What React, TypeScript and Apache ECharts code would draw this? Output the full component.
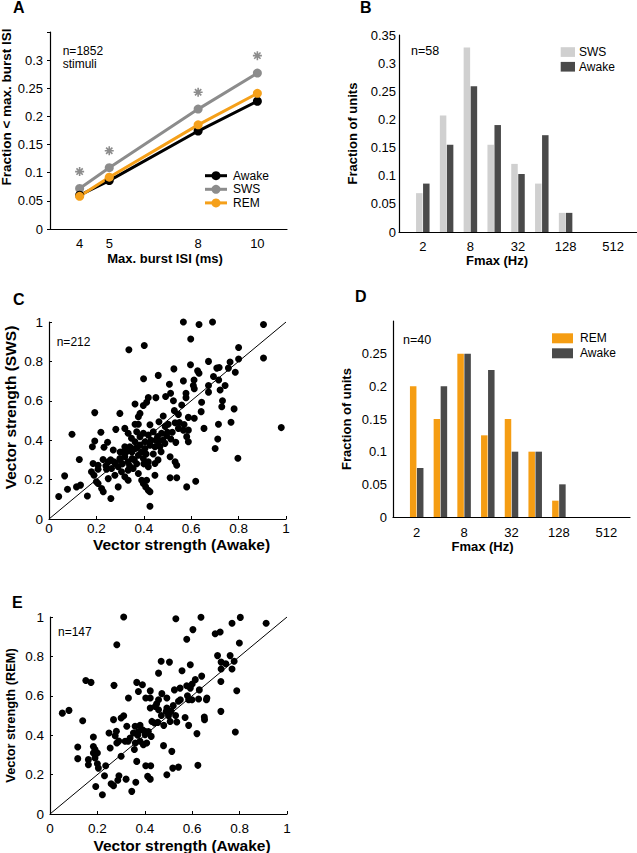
import React, { useEffect, useRef } from 'react';
import * as echarts from 'echarts';

const FONT = '"Liberation Sans", Arial, Helvetica, sans-serif';

// ---------- Panel A ----------
const A_ISI = [4, 5, 8, 10];
const A_TICKS = [4, 5, 8, 10];
const A_AWAKE = [0.06, 0.086, 0.174, 0.227];
const A_SWS = [0.072, 0.109, 0.213, 0.277];
const A_REM = [0.058, 0.092, 0.185, 0.241];
const A_STAR = [0.102, 0.139, 0.243, 0.308];

// ---------- Panels B / D ----------
const FMAX_CATS = ['1', '2', '4', '8', '16', '32', '64', '128', '256', '512', '1024'];
const B_SWS = [null, 0.069, 0.207, 0.328, 0.155, 0.121, 0.086, 0.034, 0, 0, null];
const B_AWAKE = [null, 0.086, 0.155, 0.259, 0.19, 0.103, 0.172, 0.034, 0, 0, null];
const D_REM = [null, 0.2, 0.15, 0.25, 0.125, 0.15, 0.1, 0.025, 0, 0, null];
const D_AWAKE = [null, 0.075, 0.2, 0.25, 0.225, 0.1, 0.1, 0.05, 0, 0, null];

// ---------- Panel C: vector strength Awake vs SWS ----------
const C_POINTS = [
  [0.337, 0.859], [0.193, 0.54], [0.299, 0.536], [0.097, 0.43], [0.282, 0.455], [0.219, 0.44], [0.193, 0.396],
  [0.247, 0.39], [0.183, 0.367], [0.232, 0.364], [0.271, 0.35], [0.128, 0.302], [0.228, 0.302], [0.186, 0.282],
  [0.207, 0.273], [0.25, 0.29], [0.274, 0.29], [0.299, 0.307], [0.31, 0.34], [0.066, 0.219], [0.179, 0.24],
  [0.19, 0.222], [0.2, 0.189], [0.207, 0.18], [0.222, 0.155], [0.229, 0.138], [0.116, 0.163], [0.133, 0.172],
  [0.078, 0.151], [0.041, 0.114], [0.162, 0.117], [0.261, 0.104], [0.292, 0.163], [0.25, 0.205], [0.278, 0.222],
  [0.306, 0.24], [0.264, 0.256], [0.292, 0.265], [0.243, 0.253], [0.207, 0.253],
  [0.567, 1.0], [0.633, 0.987], [0.598, 0.914], [0.402, 0.881], [0.673, 0.8], [0.527, 0.762], [0.597, 0.783],
  [0.627, 0.752], [0.633, 0.74], [0.461, 0.729], [0.399, 0.712], [0.508, 0.684], [0.567, 0.701], [0.612, 0.706],
  [0.609, 0.678], [0.613, 0.661], [0.673, 0.644], [0.513, 0.638], [0.578, 0.638], [0.451, 0.616], [0.492, 0.622],
  [0.419, 0.616], [0.412, 0.593], [0.398, 0.576], [0.363, 0.584], [0.525, 0.6], [0.578, 0.616], [0.644, 0.593],
  [0.56, 0.579], [0.384, 0.536], [0.377, 0.519], [0.482, 0.523], [0.529, 0.55], [0.546, 0.531], [0.588, 0.516],
  [0.642, 0.545], [0.654, 0.46], [0.363, 0.481], [0.377, 0.481], [0.426, 0.478], [0.464, 0.494], [0.503, 0.481],
  [0.532, 0.489], [0.546, 0.46], [0.567, 0.451], [0.588, 0.451], [0.613, 0.511], [0.32, 0.46], [0.334, 0.435],
  [0.348, 0.41], [0.37, 0.443], [0.384, 0.418], [0.398, 0.435], [0.419, 0.426], [0.44, 0.443], [0.458, 0.418],
  [0.475, 0.435], [0.496, 0.423], [0.514, 0.406], [0.535, 0.389], [0.581, 0.418], [0.588, 0.392], [0.32, 0.367],
  [0.327, 0.341], [0.341, 0.367], [0.363, 0.392], [0.363, 0.358], [0.384, 0.375], [0.405, 0.392], [0.405, 0.358],
  [0.426, 0.375], [0.447, 0.367], [0.461, 0.392], [0.468, 0.367], [0.489, 0.384], [0.473, 0.341], [0.511, 0.316],
  [0.32, 0.316], [0.334, 0.29], [0.351, 0.307], [0.377, 0.324], [0.398, 0.307], [0.419, 0.29], [0.447, 0.282],
  [0.532, 0.29], [0.539, 0.273], [0.334, 0.248], [0.355, 0.256], [0.377, 0.231], [0.419, 0.265], [0.447, 0.222],
  [0.32, 0.214], [0.334, 0.197], [0.391, 0.197], [0.398, 0.18], [0.412, 0.197], [0.408, 0.163], [0.419, 0.146],
  [0.426, 0.138], [0.511, 0.209], [0.539, 0.209], [0.581, 0.163], [0.619, 0.192], [0.426, 0.065],
  [0.69, 1.0], [0.905, 0.987], [0.905, 0.817], [0.8, 0.871], [0.8, 0.812], [0.764, 0.797], [0.708, 0.766],
  [0.718, 0.769], [0.757, 0.766], [0.786, 0.745], [0.694, 0.723], [0.716, 0.706], [0.673, 0.678], [0.743, 0.678],
  [0.722, 0.655], [0.732, 0.6], [0.729, 0.57], [0.781, 0.559], [0.715, 0.481], [0.768, 0.491], [0.98, 0.464],
  [0.712, 0.406], [0.701, 0.358], [0.797, 0.308],
  [0.3, 0.3], [0.31, 0.28], [0.35, 0.34], [0.36, 0.3], [0.37, 0.36], [0.39, 0.34], [0.41, 0.33], [0.43, 0.4],
  [0.45, 0.4], [0.48, 0.4], [0.5, 0.44], [0.52, 0.44], [0.44, 0.33], [0.34, 0.27], [0.28, 0.28], [0.26, 0.3],
  [0.24, 0.27], [0.3, 0.34], [0.37, 0.28], [0.4, 0.28], [0.46, 0.3], [0.49, 0.47], [0.55, 0.49], [0.57, 0.48],
];

// ---------- Panel E: vector strength Awake vs REM ----------
const E_POINTS = [
  [0.311, 1.0], [0.282, 0.859], [0.151, 0.678], [0.173, 0.668], [0.27, 0.653], [0.331, 0.589], [0.052, 0.512],
  [0.08, 0.526], [0.138, 0.473], [0.311, 0.499], [0.3, 0.487], [0.268, 0.479], [0.183, 0.391], [0.249, 0.411],
  [0.275, 0.397], [0.282, 0.36], [0.254, 0.335], [0.317, 0.369], [0.117, 0.34], [0.117, 0.281], [0.183, 0.343],
  [0.19, 0.327], [0.183, 0.31], [0.2, 0.31], [0.162, 0.276], [0.19, 0.284], [0.162, 0.25], [0.2, 0.255],
  [0.204, 0.233], [0.235, 0.245], [0.3, 0.293], [0.23, 0.194], [0.291, 0.194], [0.286, 0.171], [0.258, 0.154],
  [0.268, 0.144], [0.193, 0.14], [0.221, 0.098], [0.321, 0.177],
  [0.531, 0.991], [0.637, 0.999], [0.603, 0.936], [0.577, 0.887], [0.469, 0.775], [0.504, 0.771], [0.458, 0.715],
  [0.592, 0.758], [0.557, 0.727], [0.366, 0.668], [0.39, 0.656], [0.423, 0.625], [0.373, 0.622], [0.404, 0.589],
  [0.423, 0.589], [0.472, 0.611], [0.493, 0.589], [0.458, 0.58], [0.525, 0.63], [0.549, 0.639], [0.577, 0.651],
  [0.592, 0.639], [0.613, 0.682], [0.585, 0.58], [0.599, 0.58], [0.627, 0.584], [0.662, 0.589], [0.63, 0.63],
  [0.423, 0.538], [0.444, 0.546], [0.458, 0.529], [0.493, 0.538], [0.511, 0.521], [0.542, 0.572], [0.441, 0.462],
  [0.455, 0.465], [0.5, 0.499], [0.507, 0.47], [0.535, 0.467], [0.57, 0.49], [0.585, 0.45], [0.651, 0.492],
  [0.652, 0.479], [0.62, 0.408], [0.324, 0.445], [0.359, 0.445], [0.38, 0.45], [0.352, 0.411], [0.373, 0.419],
  [0.39, 0.428], [0.401, 0.403], [0.415, 0.419], [0.427, 0.394], [0.338, 0.386], [0.38, 0.369], [0.394, 0.352],
  [0.408, 0.36], [0.356, 0.327], [0.479, 0.347], [0.514, 0.318], [0.366, 0.267], [0.404, 0.245], [0.425, 0.245],
  [0.412, 0.191], [0.423, 0.177], [0.362, 0.161], [0.345, 0.115], [0.493, 0.199], [0.518, 0.233], [0.542, 0.238],
  [0.624, 0.247],
  [0.803, 0.998], [0.768, 0.968], [0.912, 0.968], [0.697, 0.915], [0.718, 0.924], [0.799, 0.868], [0.707, 0.804],
  [0.76, 0.804], [0.722, 0.771], [0.742, 0.763], [0.777, 0.775], [0.722, 0.736], [0.768, 0.736], [0.721, 0.673],
  [0.788, 0.626], [0.721, 0.521], [0.782, 0.416],
  [0.4, 0.42], [0.43, 0.47], [0.47, 0.5], [0.49, 0.52], [0.52, 0.55], [0.55, 0.58], [0.45, 0.56], [0.37, 0.4],
  [0.33, 0.37], [0.28, 0.42], [0.29, 0.37], [0.36, 0.36], [0.48, 0.45], [0.53, 0.5], [0.58, 0.6], [0.6, 0.66],
  [0.64, 0.7], [0.66, 0.58],
];
const DIAGONAL = [[0, 0], [1, 1]];

const A_LEGEND = [
  { name: 'Awake', color: '#000000' },
  { name: 'SWS', color: '#8c8c8c' },
  { name: 'REM', color: '#f5a01a' },
];
const B_LEGEND = [
  { name: 'SWS', color: '#d0d0d0' },
  { name: 'Awake', color: '#4a4a4a' },
];
const D_LEGEND = [
  { name: 'REM', color: '#f59d13' },
  { name: 'Awake', color: '#4a4a4a' },
];

const STAR_PATH = 'path://M5,0L5,10M0,5L10,5M1.5,1.5L8.5,8.5M1.5,8.5L8.5,1.5';

function fmt(v: number) {
  return String(Math.round(v * 100) / 100);
}

function buildOption() {
  const lineAxis = { show: true, onZero: false, lineStyle: { color: '#000', width: 1.2 } };
  const labelBase = { color: '#000', fontFamily: FONT };
  const nameBase = { color: '#000', fontFamily: FONT, fontWeight: 'bold' as const };
  const grids = [
    { left: 50, top: 32, width: 237, height: 197 },
    { left: 399, top: 35, width: 238, height: 197 },
    { left: 49, top: 322, width: 237, height: 197 },
    { left: 393, top: 321, width: 237, height: 196 },
    { left: 50, top: 617, width: 237, height: 197 },
  ].map((g) => ({ ...g, containLabel: false, outerBoundsMode: 'none' }));

  const catLabelInterval = (i: number) => i % 2 === 1;

  const xAxis = [
    {
      type: 'value', gridIndex: 0, min: 3, max: 11, interval: 1,
      axisLine: lineAxis, axisTick: { show: false }, splitLine: { show: false },
      axisLabel: { ...labelBase, fontSize: 13, margin: 8, formatter: (v: number) => (A_TICKS.includes(v) ? String(v) : '') },
      name: 'Max. burst ISI (ms)', nameLocation: 'middle', nameGap: 23,
      nameTextStyle: { ...nameBase, fontSize: 13, padding: [0, 7, 0, 0] },
    },
    {
      type: 'category', gridIndex: 1, data: FMAX_CATS, boundaryGap: false,
      axisLine: lineAxis, axisTick: { show: false }, splitLine: { show: false },
      axisLabel: { ...labelBase, fontSize: 13, margin: 8, interval: catLabelInterval },
      name: 'Fmax (Hz)', nameLocation: 'middle', nameGap: 19,
      nameTextStyle: { ...nameBase, fontSize: 13, padding: [0, 42, 0, 0] },
    },
    {
      type: 'value', gridIndex: 2, min: 0, max: 1, interval: 0.2,
      axisLine: lineAxis, axisTick: { show: true, inside: true, length: 3, lineStyle: { color: '#000' } }, splitLine: { show: false },
      axisLabel: { ...labelBase, fontSize: 13.5, margin: 2, formatter: fmt },
      name: 'Vector strength (Awake)', nameLocation: 'middle', nameGap: 17,
      nameTextStyle: { ...nameBase, fontSize: 15.5, padding: [0, 0, 0, 28] },
    },
    {
      type: 'category', gridIndex: 3, data: FMAX_CATS, boundaryGap: false,
      axisLine: lineAxis, axisTick: { show: false }, splitLine: { show: false },
      axisLabel: { ...labelBase, fontSize: 13, margin: 9, interval: catLabelInterval },
      name: 'Fmax (Hz)', nameLocation: 'middle', nameGap: 23,
      nameTextStyle: { ...nameBase, fontSize: 13, padding: [0, 58, 0, 0] },
    },
    {
      type: 'value', gridIndex: 4, min: 0, max: 1, interval: 0.2,
      axisLine: lineAxis, axisTick: { show: true, inside: true, length: 3, lineStyle: { color: '#000' } }, splitLine: { show: false },
      axisLabel: { ...labelBase, fontSize: 13.5, margin: 7, formatter: fmt },
      name: 'Vector strength (Awake)', nameLocation: 'middle', nameGap: 23,
      nameTextStyle: { ...nameBase, fontSize: 15.5, padding: [0, 0, 0, 27] },
    },
  ];

  const yAxis = [
    {
      type: 'value', gridIndex: 0, min: 0, max: 0.35, interval: 0.05,
      axisLine: lineAxis, axisTick: { show: true, length: 3, lineStyle: { color: '#000' } }, splitLine: { show: false },
      axisLabel: { ...labelBase, fontSize: 13, margin: 7, formatter: (v: number) => (v > 0.34 ? '' : fmt(v)) },
      name: 'Fraction < max. burst ISI', nameLocation: 'middle', nameGap: 31,
      nameTextStyle: { ...nameBase, fontSize: 13.5, lineHeight: 14, padding: [0, 0, 0, 47] },
    },
    {
      type: 'value', gridIndex: 1, min: 0, max: 0.35, interval: 0.05,
      axisLine: lineAxis, axisTick: { show: false }, splitLine: { show: false },
      axisLabel: { ...labelBase, fontSize: 13, margin: 3, formatter: fmt },
      name: 'Fraction of units', nameLocation: 'middle', nameGap: 40,
      nameTextStyle: { ...nameBase, fontSize: 13 },
    },
    {
      type: 'value', gridIndex: 2, min: 0, max: 1, interval: 0.2,
      axisLine: lineAxis, axisTick: { show: true, inside: true, length: 3, lineStyle: { color: '#000' } }, splitLine: { show: false },
      axisLabel: { ...labelBase, fontSize: 13.5, margin: 6, formatter: fmt },
      name: 'Vector strength (SWS)', nameLocation: 'middle', nameGap: 31,
      nameTextStyle: { ...nameBase, fontSize: 15.5, padding: [0, 0, 0, 26] },
    },
    {
      type: 'value', gridIndex: 3, min: 0, max: 0.3, interval: 0.05,
      axisLine: lineAxis, axisTick: { show: false }, splitLine: { show: false },
      axisLabel: { ...labelBase, fontSize: 13, margin: 6, formatter: (v: number) => (v > 0.29 ? '' : fmt(v)) },
      name: 'Fraction of units', nameLocation: 'middle', nameGap: 40,
      nameTextStyle: { ...nameBase, fontSize: 13 },
    },
    {
      type: 'value', gridIndex: 4, min: 0, max: 1, interval: 0.2,
      axisLine: lineAxis, axisTick: { show: true, inside: true, length: 3, lineStyle: { color: '#000' } }, splitLine: { show: false },
      axisLabel: { ...labelBase, fontSize: 13.5, margin: 6, formatter: fmt },
      name: 'Vector strength (REM)', nameLocation: 'middle', nameGap: 33,
      nameTextStyle: { ...nameBase, fontSize: 12.8 },
    },
  ];

  const aLine = (name: string, vals: number[], color: string) => ({
    type: 'line', name, xAxisIndex: 0, yAxisIndex: 0,
    data: A_ISI.map((x, i) => [x, vals[i]]),
    symbol: 'circle', symbolSize: 9,
    lineStyle: { color, width: 3 }, itemStyle: { color, opacity: 1 },
  });

  const bar = (name: string, data: (number | null)[], color: string, ax: number) => ({
    type: 'bar', name, xAxisIndex: ax, yAxisIndex: ax, data,
    barWidth: 6.5, barGap: '8%', itemStyle: { color },
  });

  const scatter = (data: number[][], ax: number) => ({
    type: 'scatter', xAxisIndex: ax, yAxisIndex: ax, data,
    symbol: 'circle', symbolSize: 7, itemStyle: { color: '#000', opacity: 1 },
  });

  const diag = (ax: number) => ({
    type: 'line', xAxisIndex: ax, yAxisIndex: ax, data: DIAGONAL, symbol: 'none',
    lineStyle: { color: '#000', width: 1 }, z: 1,
  });

  const series = [
    aLine('SWS', A_SWS, A_LEGEND[1].color),
    aLine('Awake', A_AWAKE, A_LEGEND[0].color),
    aLine('REM', A_REM, A_LEGEND[2].color),
    {
      type: 'scatter', name: 'p<0.05', xAxisIndex: 0, yAxisIndex: 0,
      data: A_ISI.map((x, i) => [x, A_STAR[i]]),
      symbol: STAR_PATH, symbolSize: 9,
      itemStyle: { color: 'transparent', borderColor: '#8c8c8c', borderWidth: 1.6, opacity: 1 },
    },
    bar('SWS', B_SWS, B_LEGEND[0].color, 1),
    bar('Awake', B_AWAKE, B_LEGEND[1].color, 1),
    diag(2),
    scatter(C_POINTS, 2),
    bar('REM', D_REM, D_LEGEND[0].color, 3),
    bar('Awake', D_AWAKE, D_LEGEND[1].color, 3),
    diag(4),
    scatter(E_POINTS, 4),
  ];

  const txt = (x: number, y: number, text: string, size: number, bold = false) => ({
    type: 'text', x, y,
    style: { text, fill: '#000', font: `${bold ? 'bold ' : ''}${size}px ${FONT}`, align: 'left', verticalAlign: 'middle' },
  });

  const graphic: any[] = [
    txt(13, 7.5, 'A', 16, true),
    txt(360, 7.5, 'B', 16, true),
    txt(13, 299, 'C', 16, true),
    txt(355, 296, 'D', 16, true),
    txt(12, 602.5, 'E', 16, true),
    txt(62.7, 51, 'n=1852', 12),
    txt(62.7, 64, 'stimuli', 12),
    txt(411, 51, 'n=58', 12.5),
    txt(56.7, 341.5, 'n=212', 12),
    txt(403, 340, 'n=40', 12.5),
    txt(58, 632, 'n=147', 12),
  ];
  A_LEGEND.forEach((l, i) => {
    const y = 175.7 + i * 13.6;
    graphic.push({ type: 'line', shape: { x1: 205, y1: y, x2: 227, y2: y }, style: { stroke: l.color, lineWidth: 3 } });
    graphic.push({ type: 'circle', shape: { cx: 216, cy: y, r: 4.5 }, style: { fill: l.color } });
    graphic.push(txt(233, y, l.name, 12));
  });
  B_LEGEND.forEach((l, i) => {
    const y = 52 + i * 14.7;
    graphic.push({ type: 'rect', shape: { x: 560.7, y: y - 4.8, width: 14.3, height: 9.7 }, style: { fill: l.color } });
    graphic.push(txt(579, y, l.name, 12));
  });
  D_LEGEND.forEach((l, i) => {
    const y = 338.3 + i * 15;
    graphic.push({ type: 'rect', shape: { x: 552, y: y - 5, width: 21, height: 10 }, style: { fill: l.color } });
    graphic.push(txt(580, y, l.name, 12));
  });

  return {
    animation: false,
    backgroundColor: '#ffffff',
    textStyle: { fontFamily: FONT },
    grid: grids,
    xAxis,
    yAxis,
    series,
    graphic,
  };
}

export default function App() {
  const ref = useRef<HTMLDivElement>(null);
  useEffect(() => {
    if (!ref.current) return;
    const chart = echarts.init(ref.current, null, { renderer: 'svg' });
    chart.setOption(buildOption() as any);
    return () => chart.dispose();
  }, []);
  return (
    <div
      ref={ref}
      style={{ position: 'fixed', left: 0, top: 0, width: 637, height: 853, background: '#fff' }}
    />
  );
}
